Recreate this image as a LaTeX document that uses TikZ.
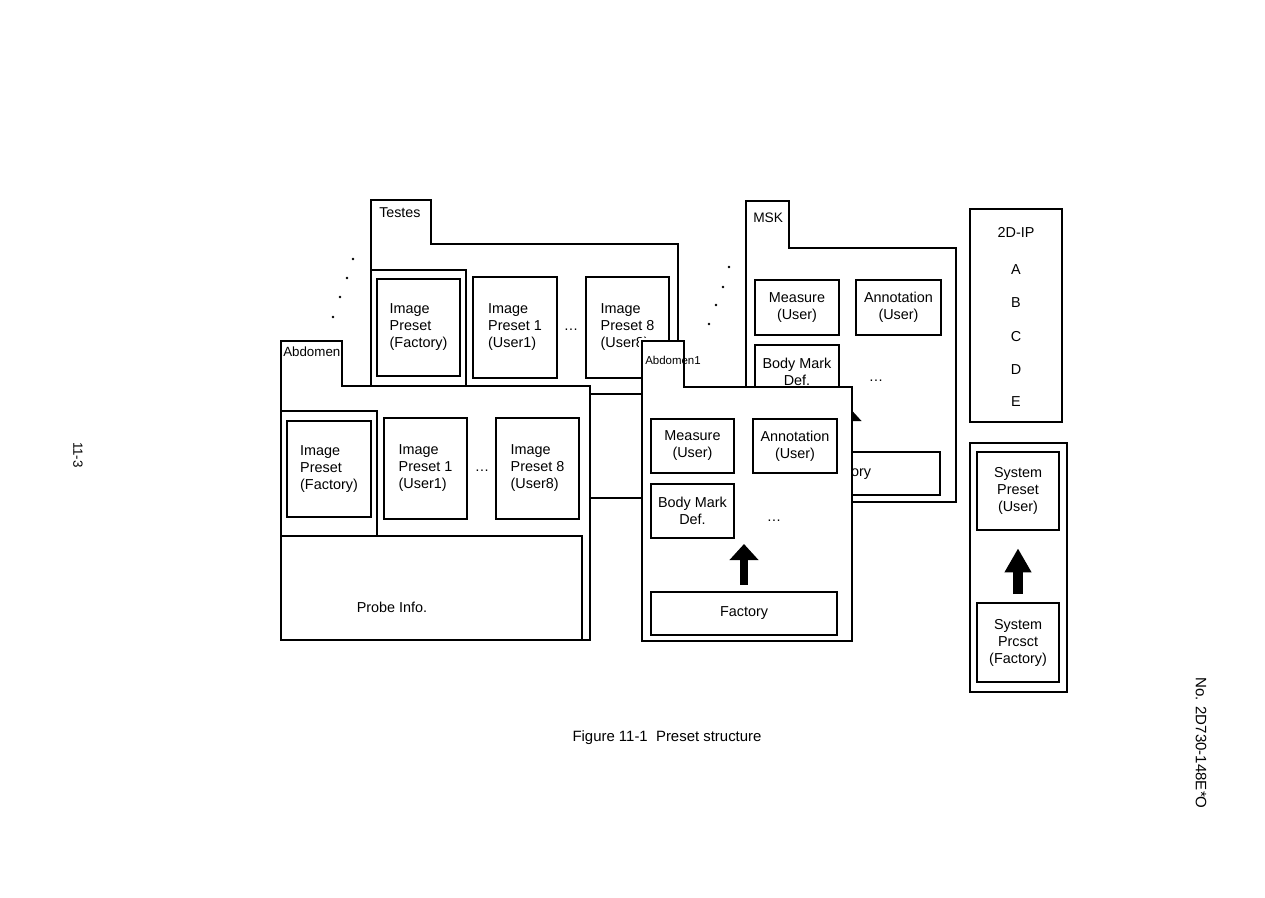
\documentclass[tikz,border=0pt]{standalone}
\usepackage{fontspec}
\setmainfont{Liberation Sans}
\usetikzlibrary{arrows.meta}
\newcommand\pxu[1]{#1*0.75pt}
\begin{document}
\begin{tikzpicture}[x=0.75pt,y=-0.75pt,
  panel/.style={draw, line width=1.4pt, fill=white},
  box/.style={draw, line width=1.2pt, fill=white, inner sep=0pt},
  thickbox/.style={box, line width=2pt},
  thinbox/.style={box, line width=0.9pt},
  txt/.style={font=\fontsize{10.8}{12.75}\selectfont, align=left, inner sep=0pt},
  ctxt/.style={txt, align=center},
  tablbl/.style={font=\fontsize{10}{12}\selectfont, anchor=west, inner sep=0pt},
  bigarrow/.style={line width=6pt, -{Triangle[length=12pt,width=21pt]}},
  sysarrow/.style={line width=7.5pt, -{Triangle[length=18pt,width=19pt]}},
  dot/.style={fill=black},
]
\fill[white] (0,0) rectangle (1265,897);
\useasboundingbox (0,0) rectangle (1265,897);

% ---------- Testes panel (behind) ----------
\begin{scope}[shift={(371,200)}]
  \draw[panel] (0,0) -- (60,0) -- (60,44) -- (307,44) -- (307,298) -- (0,298) -- cycle;
  \node[tablbl, font=\fontsize{10.7}{12}\selectfont] (testab) at (8,13) {Testes};
  \node[thinbox, minimum width=\pxu{95}, minimum height=\pxu{125}] (tesfacout) at (47.5,132.5) {};
  \node[thickbox, txt, minimum width=\pxu{83}, minimum height=\pxu{97}] (tesfac) at (47.5,127.5) {Image\\Preset\\(Factory)};
  \node[box, txt, minimum width=\pxu{84}, minimum height=\pxu{101}] (tesu1) at (144,127.5) {Image\\Preset 1\\(User1)};
  \node[txt] (tesdots) at (200,130) {\dots};
  \node[box, minimum width=\pxu{83}, minimum height=\pxu{101}] (tesu8) at (256.5,127.5) {};
  \begin{scope}
    \clip (200,60) -- (300,60) -- (300,137) -- (267,137) -- (267,200) -- (200,200) -- cycle;
    \node[txt] (tesu8txt) at (tesu8.center) {Image\\Preset 8\\(User8)};
  \end{scope}
  \node[thinbox, minimum width=\pxu{301}, minimum height=\pxu{104}] (tesprobe) at (150.5,246) {};
\end{scope}

% ---------- Abdomen panel ----------
\begin{scope}[shift={(281,341)}]
  \draw[panel] (0,0) -- (61,0) -- (61,45) -- (309,45) -- (309,299) -- (0,299) -- cycle;
  \node[tablbl] (abdtab) at (2,11) {Abdomen};
  \node[thinbox, minimum width=\pxu{96}, minimum height=\pxu{125}] (abdfacout) at (48,132.5) {};
  \node[thickbox, txt, minimum width=\pxu{84}, minimum height=\pxu{96}] (abdfac) at (48,128) {Image\\Preset\\(Factory)};
  \node[box, txt, minimum width=\pxu{83}, minimum height=\pxu{101}] (abdu1) at (144.5,127.5) {Image\\Preset 1\\(User1)};
  \node[txt] (abddots) at (201,130) {\dots};
  \node[box, txt, minimum width=\pxu{83}, minimum height=\pxu{101}] (abdu8) at (256.5,127.5) {Image\\Preset 8\\(User8)};
  \node[thinbox, minimum width=\pxu{301}, minimum height=\pxu{104}] (abdprobe) at (150.5,247) {};
  \node[txt] (abdprobetxt) at (111,266) {Probe Info.};
\end{scope}

% ---------- MSK panel (behind) ----------
\begin{scope}[shift={(746,201)}]
  \draw[panel] (0,0) -- (43,0) -- (43,47) -- (210,47) -- (210,301) -- (0,301) -- cycle;
  \node[tablbl, font=\fontsize{10.3}{12}\selectfont] (msktab) at (7,17) {MSK};
  \node[box, ctxt, minimum width=\pxu{84}, minimum height=\pxu{55}] (mskmeas) at (51,106.5) {Measure\\(User)};
  \node[box, ctxt, minimum width=\pxu{85}, minimum height=\pxu{55}] (mskanno) at (152.5,106.5) {Annotation\\(User)};
  \node[box, ctxt, minimum width=\pxu{84}, minimum height=\pxu{54}] (mskbody) at (51,171) {Body Mark\\Def.};
  \node[txt] (mskdots) at (130,180) {\dots};
  \node[thickbox, ctxt, minimum width=\pxu{186}, minimum height=\pxu{43}] (mskfac) at (101,272.5) {Factory};
  \coordinate (msktip) at (mskfac.north |- 0,204);
  \draw[bigarrow, shorten <=4.5pt] (mskfac.north) -- (msktip);
\end{scope}

% ---------- Abdomen1 panel ----------
\begin{scope}[shift={(642,341)}]
  \draw[panel] (0,0) -- (42,0) -- (42,46) -- (210,46) -- (210,300) -- (0,300) -- cycle;
  \node[tablbl, font=\fontsize{8.6}{10}\selectfont] (ab1tab) at (3,19) {Abdomen1};
  \node[box, ctxt, minimum width=\pxu{83}, minimum height=\pxu{54}] (ab1meas) at (50.5,105) {Measure\\(User)};
  \node[box, ctxt, minimum width=\pxu{84}, minimum height=\pxu{54}] (ab1anno) at (153,105) {Annotation\\(User)};
  \node[box, ctxt, minimum width=\pxu{83}, minimum height=\pxu{54}] (ab1body) at (50.5,170) {Body Mark\\Def.};
  \node[txt] (ab1dots) at (132,180) {\dots};
  \node[thickbox, ctxt, minimum width=\pxu{186}, minimum height=\pxu{43}] (ab1fac) at (102,272.5) {Factory};
  \coordinate (ab1tip) at (ab1fac.north |- 0,203);
  \draw[bigarrow, shorten <=4.5pt] (ab1fac.north) -- (ab1tip);
\end{scope}

% ---------- continuation dots ----------
\fill[dot] (353,259) circle (1pt);
\fill[dot] (347,278) circle (1pt);
\fill[dot] (340,297) circle (1pt);
\fill[dot] (333,317) circle (1pt);
\fill[dot] (729,267) circle (1pt);
\fill[dot] (723,287) circle (1pt);
\fill[dot] (716,305) circle (1pt);
\fill[dot] (709,324) circle (1pt);

% ---------- 2D-IP ----------
\node[box, minimum width=\pxu{92}, minimum height=\pxu{213}] (ip) at (1016,315.5) {};
\node[txt] (ipt) at (1016,232) {2D-IP};
\node[txt] (ipa) at (1016,270) {A};
\node[txt] (ipb) at (1016,303) {B};
\node[txt] (ipc) at (1016,337) {C};
\node[txt] (ipd) at (1016,370) {D};
\node[txt] (ipe) at (1016,402) {E};

% ---------- System preset ----------
\node[box, minimum width=\pxu{97}, minimum height=\pxu{249}] (sys) at (1018.5,567.5) {};
\node[thickbox, ctxt, minimum width=\pxu{82}, minimum height=\pxu{78}] (sysuser) at (1018,491) {System\\Preset\\(User)};
\node[box, ctxt, minimum width=\pxu{82}, minimum height=\pxu{79}] (sysfac) at (1018,642.5) {System\\Prcsct\\(Factory)};
\draw[sysarrow, shorten <=6pt, shorten >=12.75pt] (sysfac.north) -- (sysuser.south);

% ---------- caption and margins ----------
\node[inner sep=0pt, font=\fontsize{11.2}{13}\selectfont] (caption) at (667,738) {Figure 11-1\ \ Preset structure};
\node[inner sep=0pt, rotate=-90, font=\fontsize{10}{12}\selectfont] (pageno) at (78,455) {11-3};
\node[inner sep=0pt, rotate=-90, font=\fontsize{11.3}{13}\selectfont] (docno) at (1201,743) {No. 2D730-148E*O};
\end{tikzpicture}
\end{document}
